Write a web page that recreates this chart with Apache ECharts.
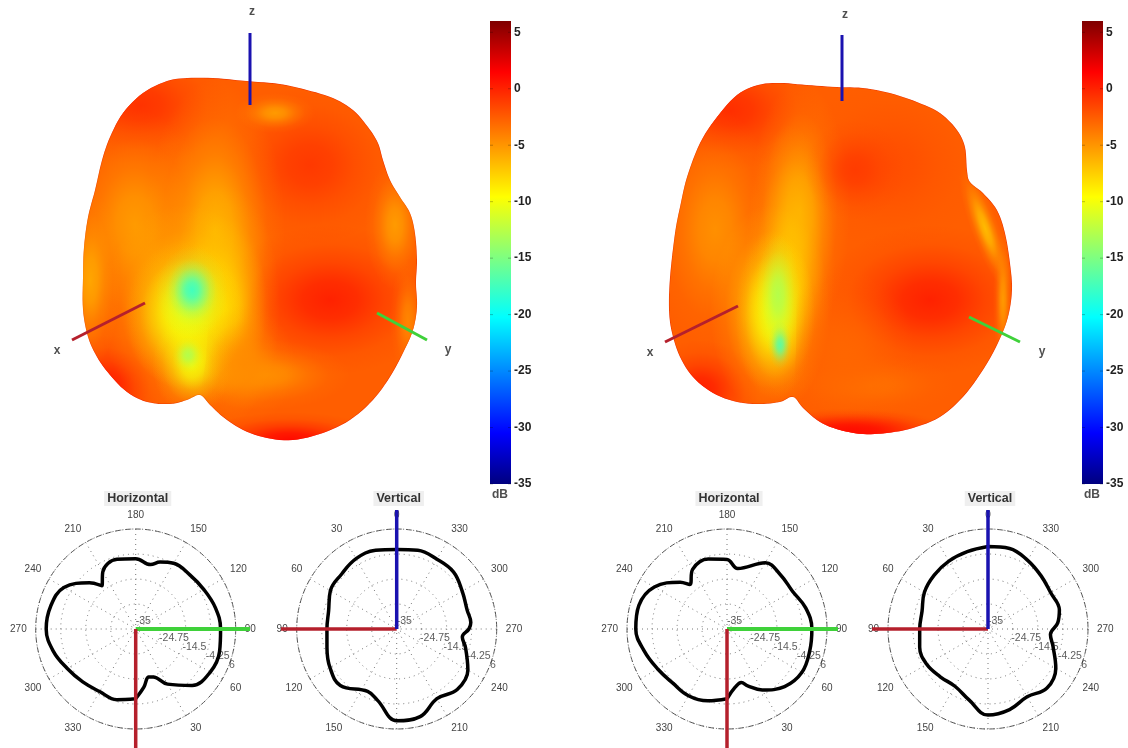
<!DOCTYPE html>
<html><head><meta charset="utf-8">
<style>html,body{margin:0;padding:0;background:#fff}#c{width:1128px;height:748px}</style>
<script src="https://cdn.jsdelivr.net/npm/echarts@6/dist/echarts.min.js"></script>
</head><body><div id="c"></div>
<script>
// ---------- polar patterns (dB) ----------
const hAngleLeft = [0,8,15,20,30,45,60,75,90,105,120,135,150,160,167,180,195,210,218,225,240,255,270,285,300,315,330,345,360];
const hDbLeft = [-6.4,-10.9,-14.6,-14.1,-8.9,-2.3,0.3,0.6,-0.2,-1.2,-2.7,-3.6,-3.9,-5.8,-7.9,-6.2,-5.4,-8,-12.5,-8.2,-1,1.1,1.7,0,-2.6,-4.3,-5.4,-5,-6.4];
const vAngleLeft = [0,15,30,45,60,75,90,105,120,135,155,165,180,195,210,225,240,255,263,270,275,285,300,315,330,345,360];
const vDbLeft = [-2.4,-1.6,-1.7,-3.1,-3.6,-6.1,-6.4,-5.4,-3.4,-2.3,-6.8,-4.7,2.6,2.2,-2,0.1,-1.3,-5.8,-7.9,-5.4,-4.5,-5.1,-4,-2,-2,-1.6,-2.4];
const hAngleRight = [0,8,15,20,30,45,60,75,90,105,120,135,150,170,180,195,210,220,225,240,255,270,285,300,315,330,345,360];
const hDbRight = [-6.4,-10.9,-12.3,-10.2,-6.1,-1.6,0.5,0.1,-0.2,-1.6,-4,-3.8,-3.6,-9.8,-6.5,-5.3,-6.8,-11.2,-7.9,-0.6,2.4,2.4,0.1,-2.2,-3.6,-3.4,-4.5,-6.4];
const vAngleRight = [0,15,30,45,60,75,90,105,120,135,150,165,180,195,210,225,240,255,265,275,285,300,315,330,345,360];
const vDbRight = [-1.2,-2.2,-2.9,-3.8,-4.9,-7,-7,-6,-6,-7.3,-7.9,-4.9,0.3,-0.8,-2.9,-0.8,-2.9,-7.4,-9.3,-6.3,-4.7,-5.3,-4.2,-2.5,-0.8,-1.2];
const radialLabels = [-35,-24.75,-14.5,-4.25,6];
const angleTicks = [0,30,60,90,120,150,180,210,240,270,300,330];
const polarTitles = ['Horizontal','Vertical','Horizontal','Vertical'];
const colorTicks = [5,0,-5,-10,-15,-20,-25,-30,-35];
const dbMin = -35, dbMax = 6;

// ---------- surface outlines ----------
const leftOutX = [187,213,247,280,307,333,353,368,378,383,390,400,410,415,417,416,417,413,403,390,373,350,323,293,267,243,223,210,200,187,170,147,127,110,97,88,83,83,84,88,95,102,110,123,143,167];
const leftOutY = [78,78,81,84,90,98,110,127,143,160,180,197,213,233,260,283,307,330,353,377,400,420,433,440,438,430,417,405,395,400,404,402,392,375,357,337,310,277,247,217,190,160,137,113,93,81];
const rightOutX = [780,807,837,863,890,917,940,957,965,967,970,983,997,1005,1010,1012,1008,998,983,963,940,913,887,863,840,820,803,793,780,760,737,713,693,680,672,669,670,675,680,687,700,717,737,758];
const rightOutY = [83,85,87,88,93,102,113,130,147,170,182,193,210,233,263,290,317,343,370,397,417,428,433,434,430,422,408,397,402,404,402,393,377,357,333,310,277,233,207,177,143,117,95,85];
// front lobe (in front of the fold)
const leftLobeX = [209,310,310,195,200,206];
const leftLobeY = [300,300,445,445,395,360];
const rightLobeX = [797,1020,1020,780,793,796];
const rightLobeY = [270,270,440,440,397,350];

// ---------- surface colour patches: position, extent, tilt, dB ----------
const leftBaseDb = -2.6;
const leftPX  = [140,310,135,215,275,330,395,408,105,265,290,90,225,185,185,192,192,192,188];
const leftPY  = [105,165,225,230,113,300,225,320,385,375,440,280,305,310,315,365,292,290,355];
const leftPRx = [90,90,75,70,40,110,30,18,60,85,95,30,55,85,60,40,36,24,16];
const leftPRy = [60,80,115,150,20,75,65,60,50,35,28,90,120,105,75,50,46,30,18];
const leftPTilt = [0,0,0,0,0,0,0,0,0,0,0,0,0,0,0,0,0,0,0];
const leftPDb = [-0.5,-0.8,-5.5,-6.5,-5.5,0.3,-5.5,-4.5,0.5,-5,1.5,-6,-7.5,-8.5,-10,-10,-13.5,-18,-13];
const leftFX = [245], leftFY = [365], leftFRx = [50], leftFRy = [60], leftFDb = [-4.5];
const rightBaseDb = -2.6;
const rightPX  = [730,890,715,800,855,930,985,1003,700,850,870,790,770,775,778,780];
const rightPY  = [110,165,230,210,170,300,228,300,390,430,385,265,310,315,295,345];
const rightPRx = [90,95,65,50,50,110,14,10,60,100,85,45,60,40,22,12];
const rightPRy = [60,85,120,130,50,75,65,70,50,22,30,140,105,85,60,24];
const rightPTilt = [0,0,0,0,0,0,0.35,0,0,0,0,0,0,0,0,0];
const rightPDb = [-0.3,-1.8,-5,-6,-1,0.3,-7,-5.5,0.5,1,-3.5,-7,-8.5,-10,-13,-17];
const rightFX = [845,850], rightFY = [355,435], rightFRx = [70,100], rightFRy = [85,25], rightFDb = [-3,1];

// ---------- coordinate axes drawn on the picture ----------
const segColors = {x:'#b5202c', y:'#3fd13a', z:'#1a12b0'};
const xyzLeft  = {x:[[72,340],[145,303]], y:[[377,313],[427,340]], z:[[250,33],[250,105]]};
const xyzRight = {x:[[665,342],[738,306]], y:[[969,317],[1020,342]], z:[[842,35],[842,101]]};
const xyzLabels = [[57,351,'x'],[448,350,'y'],[252,12,'z'],[650,353,'x'],[1042,352,'y'],[845,15,'z']];
const polarCenters = [[135.7,629],[396.7,629],[727,629],[988,629]];
const armEnds = [
  [['y',[250,629]],['x',[135.7,760]]],
  [['x',[281,629]],['z',[396.7,510]]],
  [['y',[838,629]],['x',[727,760]]],
  [['x',[872,629]],['z',[988,510]]]
];

const FONT = '"Liberation Sans", Arial, sans-serif';
const stops = [[0,[0,0,127]],[0.11,[0,0,255]],[0.36,[0,255,255]],[0.62,[255,255,0]],[0.89,[255,0,0]],[1,[127,0,0]]];
function jet(db){
  const t = Math.max(0,Math.min(1,(db-dbMin)/(dbMax-dbMin)));
  for(let i=1;i<stops.length;i++){
    if(t<=stops[i][0]){
      const a=stops[i-1],b=stops[i],k=(t-a[0])/(b[0]-a[0]);
      return a[1].map((v,j)=>Math.round(v+(b[1][j]-v)*k));
    }
  }
  return stops[5][1];
}
const rgba=(c,a)=>`rgba(${c[0]},${c[1]},${c[2]},${a})`;
function rounded(pts){ // closed Catmull-Rom drawing of an outline
  const out=[],n=pts.length;
  for(let i=0;i<n;i++){
    const p0=pts[(i+n-1)%n],p1=pts[i],p2=pts[(i+1)%n],p3=pts[(i+2)%n];
    for(let k=0;k<6;k++){
      const t=k/6,t2=t*t,t3=t2*t;
      out.push([0,1].map(d=>0.5*(2*p1[d]+(p2[d]-p0[d])*t+(2*p0[d]-5*p1[d]+4*p2[d]-p3[d])*t2+(3*p1[d]-p0[d]-3*p2[d]+p3[d])*t3)));
    }
  }
  return out;
}
function softPatch(api,x,y,rx,ry,tilt,db){
  const c=api.coord([x,y]), s=api.size([rx,ry]), col=jet(db);
  return {type:'circle',shape:{cx:0,cy:0,r:100},x:c[0],y:c[1],scaleX:s[0]/100,scaleY:s[1]/100,rotation:tilt,
    style:{fill:{type:'radial',x:0.5,y:0.5,r:0.5,colorStops:[
      {offset:0,color:rgba(col,0.9)},{offset:0.25,color:rgba(col,0.72)},{offset:0.5,color:rgba(col,0.36)},
      {offset:0.75,color:rgba(col,0.1)},{offset:1,color:rgba(col,0)}]}}};
}
function surfaceSeries(outX,outY,base,px,py,prx,pry,tilt,pdb,lobeX,lobeY,fx,fy,frx,fry,fdb){
  return {
    type:'custom',coordinateSystem:'cartesian2d',xAxisIndex:0,yAxisIndex:0,silent:true,z:2,
    data:[[outX[0],outY[0]]],
    renderItem(params,api){
      const pts=rounded(outX.map((x,i)=>api.coord([x,outY[i]])));
      const kids=[{type:'polygon',shape:{points:pts},
        style:{fill:rgba(jet(base),1),stroke:'rgba(225,30,0,0.6)',lineWidth:1.2}}];
      px.forEach((x,i)=>kids.push(softPatch(api,x,py[i],prx[i],pry[i],tilt[i],pdb[i])));
      kids.push({type:'group',
        clipPath:{type:'polygon',shape:{points:lobeX.map((x,i)=>api.coord([x,lobeY[i]]))}},
        children:fx.map((x,i)=>softPatch(api,x,fy[i],frx[i],fry[i],0,fdb[i]))});
      return {type:'group',children:kids,clipPath:{type:'polygon',shape:{points:pts}}};
    }
  };
}

const series=[
  surfaceSeries(leftOutX,leftOutY,leftBaseDb,leftPX,leftPY,leftPRx,leftPRy,leftPTilt,leftPDb,leftLobeX,leftLobeY,leftFX,leftFY,leftFRx,leftFRy,leftFDb),
  surfaceSeries(rightOutX,rightOutY,rightBaseDb,rightPX,rightPY,rightPRx,rightPRy,rightPTilt,rightPDb,rightLobeX,rightLobeY,rightFX,rightFY,rightFRx,rightFRy,rightFDb)
];
[xyzLeft,xyzRight].forEach(set=>{
  ['x','y','z'].forEach(k=>series.push({type:'line',xAxisIndex:0,yAxisIndex:0,data:set[k],showSymbol:false,silent:true,z:5,
    lineStyle:{color:segColors[k],width:3,cap:'butt'}}));
});
series.push({type:'scatter',xAxisIndex:0,yAxisIndex:0,symbolSize:0,silent:true,z:6,data:xyzLabels,
  label:{show:true,position:'inside',formatter:p=>p.value[2],fontFamily:FONT,fontSize:12,fontWeight:'bold',color:'#222'}});

const patterns=[[hAngleLeft,hDbLeft],[vAngleLeft,vDbLeft],[hAngleRight,hDbRight],[vAngleRight,vDbRight]];
const polar=[],angleAxis=[],radiusAxis=[],title=[];
polarCenters.forEach((c,i)=>{
  const isH=i%2===0;
  polar.push({center:c,radius:100});
  angleAxis.push({polarIndex:i,type:'value',min:0,max:360,interval:30,clockwise:false,startAngle:isH?270:90,
    axisLine:{show:true,lineStyle:{color:'#555',width:1,type:[5,2,1,2]}},axisTick:{show:false},
    splitLine:{show:true,lineStyle:{color:'#777',width:1,type:[1,4]}},
    axisLabel:{margin:9,fontFamily:FONT,fontSize:10,color:'#444',
      formatter:v=>(angleTicks.includes(v)&&!(isH&&v===0)&&!(!isH&&v===180))?String(v):''}});
  radiusAxis.push({polarIndex:i,type:'value',min:0,max:dbMax-dbMin,interval:(dbMax-dbMin)/4,
    axisLine:{show:false},axisTick:{show:false},axisLabel:{show:false},
    splitLine:{show:true,lineStyle:{color:'#777',width:1,type:[1,4]}}});
  title.push({text:polarTitles[i],left:c[0]-1,top:491,textAlign:'center',padding:[1,3],backgroundColor:'#efefef',
    textStyle:{fontFamily:FONT,fontSize:12.5,fontWeight:'bold',color:'#333'}});
  const labelAngle=isH?69:249;
  series.push({type:'scatter',coordinateSystem:'polar',polarIndex:i,symbolSize:0,silent:true,z:3,clip:false,
    data:radialLabels.map(d=>[d-dbMin,labelAngle,d]),
    label:{show:true,position:'right',distance:0,fontFamily:FONT,fontSize:10.5,color:'#333',
      formatter:p=>String(p.value[2])},
    labelLayout:p=>p.dataIndex===0?{dy:-8,dx:0}:{}});
  series.push({type:'line',coordinateSystem:'polar',polarIndex:i,showSymbol:false,silent:true,smooth:0.4,clip:false,z:4,
    data:patterns[i][0].map((a,j)=>[patterns[i][1][j]-dbMin,a]),
    lineStyle:{color:'#000',width:3.5}});
  armEnds[i].forEach(([k,end])=>series.push({type:'line',xAxisIndex:0,yAxisIndex:0,showSymbol:false,silent:true,z:5,
    data:[c,end],lineStyle:{color:segColors[k],width:k==='y'?4:3.5,cap:'butt'}}));
});

// colour bars
const barLefts=[490,1082];
const grids=[{left:0,top:0,width:1128,height:748}];
const xAxis=[{type:'value',min:0,max:1128,show:false,gridIndex:0}];
const yAxis=[{type:'value',min:0,max:748,inverse:true,show:false,gridIndex:0}];
barLefts.forEach((l,i)=>{
  const g=i+1;
  grids.push({left:l,top:21,width:21,height:463});
  xAxis.push({type:'value',min:0,max:1,show:false,gridIndex:g});
  yAxis.push({type:'value',min:dbMin,max:dbMax,interval:5,position:'right',gridIndex:g,
    axisLine:{show:false},axisTick:{show:false},splitLine:{show:false},
    axisLabel:{showMaxLabel:false,margin:3,fontFamily:FONT,fontSize:12,fontWeight:'bold',color:'#222',
      formatter:v=>colorTicks.includes(v)?String(v):''}});
  series.push({type:'custom',coordinateSystem:'cartesian2d',xAxisIndex:g,yAxisIndex:g,silent:true,z:1,
    data:[[0,dbMin,1,dbMax]],
    renderItem(p,api){
      const a=api.coord([0,dbMax]),b=api.coord([1,dbMin]);
      const kids=[{type:'rect',shape:{x:a[0],y:a[1],width:b[0]-a[0],height:b[1]-a[1]},
        style:{fill:{type:'linear',x:0,y:1,x2:0,y2:0,colorStops:stops.map(s=>({offset:s[0],color:rgba(s[1],1)}))}}}];
      colorTicks.forEach(t=>{const y=api.coord([0,t])[1];
        kids.push({type:'line',shape:{x1:a[0],y1:y,x2:a[0]+3,y2:y},style:{stroke:'rgba(0,0,0,0.25)',lineWidth:1}});
        kids.push({type:'line',shape:{x1:b[0]-3,y1:y,x2:b[0],y2:y},style:{stroke:'rgba(0,0,0,0.25)',lineWidth:1}});});
      return {type:'group',children:kids};
    }});
  series.push({type:'scatter',xAxisIndex:0,yAxisIndex:0,symbolSize:0,silent:true,z:6,
    data:[[l+10,495,'dB']],
    label:{show:true,position:'inside',formatter:q=>q.value[2],fontFamily:FONT,fontSize:12,fontWeight:'bold',color:'#222'}});
});

const chart=echarts.init(document.getElementById('c'),null,{renderer:'canvas',width:1128,height:748});
chart.setOption({animation:false,backgroundColor:'#fff',title,grid:grids,xAxis,yAxis,polar,angleAxis,radiusAxis,series});
</script></body></html>
